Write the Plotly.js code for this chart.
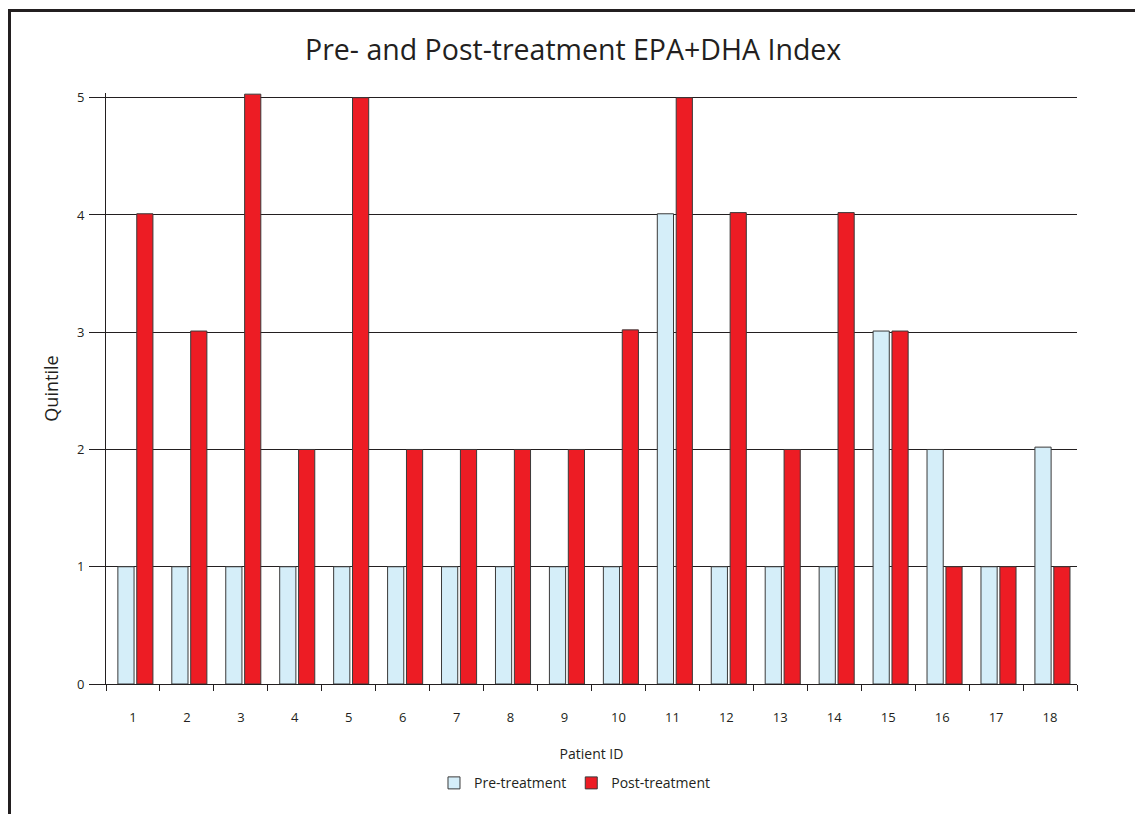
<!DOCTYPE html>
<html>
<head>
<meta charset="utf-8">
<script src="https://cdn.plot.ly/plotly-3.0.1.min.js"></script>
<style>
  html, body { margin: 0; padding: 0; background: #fff; }
  #frame { position: absolute; left: 8px; top: 9px; width: 1200px; height: 900px;
           border-left: 3px solid #231f20; border-top: 3px solid #231f20; }
  #chart { position: absolute; left: 0; top: 0; width: 1135px; height: 814px; }
</style>
</head>
<body>
<div id="frame"></div>
<div id="chart"></div>
<script>
const patientIds = ["1","2","3","4","5","6","7","8","9","10","11","12","13","14","15","16","17","18"];
const preTreatment  = [1, 1, 1, 1, 1, 1, 1, 1, 1, 1, 4.01, 1, 1, 1, 3.01, 2, 1, 2.02];
const postTreatment = [4.01, 3.01, 5.03, 2, 5, 2, 2, 2, 2, 3.02, 5, 4.02, 2, 4.02, 3.01, 1, 1, 1];
const yTicks = [0, 1, 2, 3, 4, 5];

const font = "Open Sans, Noto Sans, sans-serif";

const traces = [
  { type: "bar", name: "Pre-treatment", x: patientIds, y: preTreatment,
    offset: -0.28, width: 0.3,
    marker: { color: "#d5eef9", line: { color: "#3a3a3a", width: 1 } } },
  { type: "bar", name: "Post-treatment", x: patientIds, y: postTreatment,
    offset: 0.07, width: 0.3,
    marker: { color: "#ed1c24", line: { color: "#3a3a3a", width: 1 } } }
];

const layout = {
  width: 1135, height: 814,
  paper_bgcolor: "rgba(0,0,0,0)", plot_bgcolor: "rgba(0,0,0,0)",
  margin: { l: 106, r: 58, t: 93, b: 130 },
  font: { family: font, color: "#231f20", size: 13 },
  title: { text: "Pre- and Post-treatment EPA+DHA Index", font: { size: 28.5, family: font, color: "#231f20" },
           x: 0.505, xanchor: "center", y: 0.938, yanchor: "middle" },
  barmode: "group",
  xaxis: {
    type: "category", tickson: "boundaries", ticks: "outside", ticklen: 6, tickcolor: "#231f20",
    showline: true, linecolor: "#231f20", linewidth: 1, showgrid: false,
    ticklabelstandoff: 21, tickfont: { size: 13 },
    title: { text: "Patient ID", font: { size: 14 }, standoff: 24 }
  },
  yaxis: {
    range: [0, 5.04], tickvals: yTicks, ticks: "outside", ticklen: 16, tickcolor: "#231f20",
    showline: true, linecolor: "#231f20", linewidth: 1,
    showgrid: true, gridcolor: "#231f20", gridwidth: 1, zeroline: false,
    tickfont: { size: 13 }, ticklabelstandoff: 2,
    title: { text: "Quintile", font: { size: 18 }, standoff: 13 }
  },
  showlegend: true,
  legend: { orientation: "h", x: 0.483, xanchor: "center", y: -0.168, yanchor: "middle",
            font: { size: 14 }, traceorder: "normal" }
};

Plotly.newPlot("chart", traces, layout, { displayModeBar: false, staticPlot: true });
</script>
</body>
</html>
